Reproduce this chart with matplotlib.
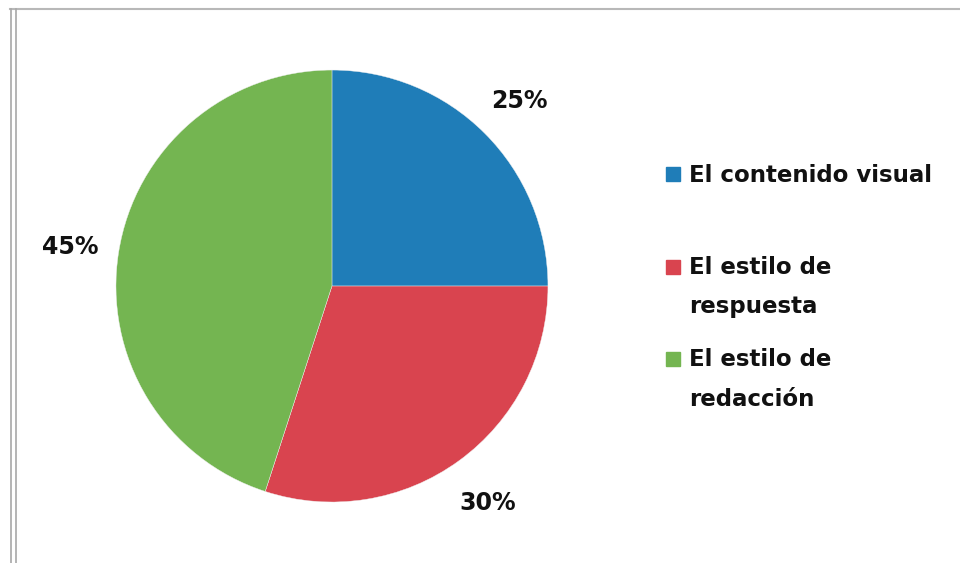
import matplotlib.pyplot as plt
from matplotlib.lines import Line2D
from matplotlib.patches import Rectangle

# Share of each factor
labels = ['El contenido visual', 'El estilo de\nrespuesta', 'El estilo de\nredacción']
shares = [25, 30, 45]
colors = ['#1f7db8', '#d9444f', '#74b551']

plt.rcParams['font.family'] = ['DejaVu Sans']

fig = plt.figure(figsize=(9.6, 5.63), dpi=100)
fig.patch.set_facecolor('white')

ax = fig.add_axes([0.1208, 0.1083, 0.45, 0.7673])
wedges, texts, autotexts = ax.pie(
    shares, colors=colors, startangle=90, counterclock=False,
    autopct='%d%%', pctdistance=1.225, radius=1,
    wedgeprops=dict(linewidth=0.3, edgecolor='#f0f0f0'))
for t in autotexts:
    t.set_fontsize(17)
    t.set_fontweight('bold')
    t.set_color('#111111')
    t.set_verticalalignment('center_baseline')
ax.set_xlim(-1, 1)
ax.set_ylim(-1, 1)
ax.set_aspect('equal')

# legend drawn by hand: square + (possibly two-line) text
rows = [175 / 563, 268 / 563, 360 / 563]
line_gap = 39 / 563
for lab, col, y in zip(labels, colors, rows):
    fy = 1 - y
    fig.patches.append(Rectangle((666 / 960, fy - 6 / 563), 14 / 960, 14 / 563,
                                 transform=fig.transFigure, color=col))
    for i, part in enumerate(lab.split('\n')):
        fig.text(689 / 960, fy - i * line_gap, part, fontsize=16.5,
                 fontweight='bold', va='center', ha='left', color='#111111')

# outer frame lines
fig.add_artist(Line2D([10 / 960, 1], [1 - 8.5 / 563] * 2, transform=fig.transFigure,
                      color='#b8b8b8', lw=1.5))
for x in (10.5, 15.5):
    fig.add_artist(Line2D([x / 960] * 2, [0, 1 - 8.5 / 563], transform=fig.transFigure,
                          color='#a8a8a8', lw=1.2))

fig.savefig('out.png', dpi=100)
